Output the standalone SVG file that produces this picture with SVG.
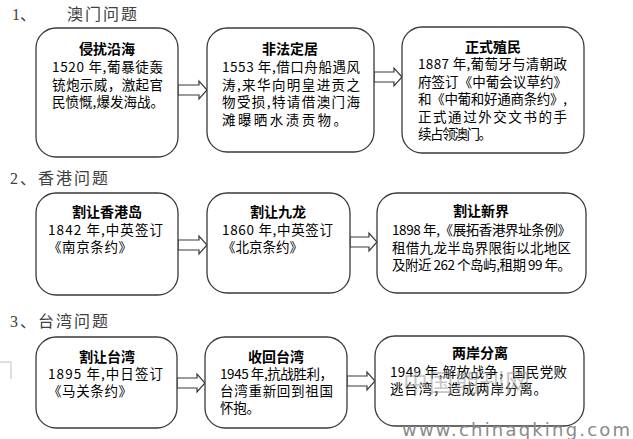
<svg xmlns="http://www.w3.org/2000/svg" width="633" height="439" viewBox="0 0 633 439">
<style>
.bg{fill:#fff}
.box{fill:#fff;stroke:#3a3a3a;stroke-width:1.3}
.arr{fill:#fff;stroke:#3a3a3a;stroke-width:1.2}
.sec{font-family:"Liberation Serif","Noto Sans CJK SC",serif;font-size:16px;fill:#404040}
.t{font-family:"Noto Sans CJK SC",sans-serif;font-size:14px;font-weight:bold;fill:#000;text-anchor:middle}
.b{font-family:"Noto Sans CJK SC",sans-serif;font-size:13.5px;fill:#000}
.wm{font-family:"Noto Sans CJK SC",sans-serif;font-size:25px;fill:#9a9a9a;opacity:0.55}
.url{font-family:"DejaVu Sans",sans-serif;font-size:18px;fill:#8a8a8a}
</style>
<rect class="bg" x="0" y="0" width="633" height="439"/>
<g id="headings">
<text class="sec" x="12" y="20">1、</text>
<text class="sec" x="67" y="20" textLength="70">澳门问题</text>
<text class="sec" x="10" y="184" textLength="98">2、香港问题</text>
<text class="sec" x="10" y="327" textLength="98">3、台湾问题</text>
</g>
<path d="M0,362 H11 V379" fill="none" stroke="#c0c0c0" stroke-width="1"/>
<g id="connectors">
<path class="arr" d="M178,85 H199 V81 L207,90 L199,99 V95 H178 Z"/>
<path class="arr" d="M374,72 H394 V68 L402,77 L394,86 V82 H374 Z"/>
<path class="arr" d="M178,240 H199 V236 L207,245 L199,254 V250 H178 Z"/>
<path class="arr" d="M350,237 H369 V233 L377,242 L369,251 V247 H350 Z"/>
<path class="arr" d="M177,378 H197 V374 L205,383 L197,392 V388 H177 Z"/>
<path class="arr" d="M347,376 H367 V372 L375,381 L367,390 V386 H347 Z"/>
</g>
<g id="n1">
<rect class="box" x="36" y="28" width="142" height="129" rx="20"/>
<text class="t" x="107" y="54">侵扰沿海</text>
<text class="b" x="52" y="72" textLength="111">1520 年,葡暴徒轰</text>
<text class="b" x="52" y="89.5" textLength="111">铳炮示威，激起官</text>
<text class="b" x="52" y="107" textLength="112">民愤慨,爆发海战。</text>
</g>
<g id="n2">
<rect class="box" x="207" y="28" width="167" height="124" rx="20"/>
<text class="t" x="290" y="54">非法定居</text>
<text class="b" x="222" y="72" textLength="138">1553 年,借口舟船遇风</text>
<text class="b" x="222" y="89.5" textLength="138">涛,来华向明皇进贡之</text>
<text class="b" x="222" y="107" textLength="138">物受损,特请借澳门海</text>
<text class="b" x="222" y="124.5" textLength="125">滩曝晒水渍贡物。</text>
</g>
<g id="n3">
<rect class="box" x="402" y="27" width="182" height="126" rx="20"/>
<text class="t" x="493" y="52">正式殖民</text>
<text class="b" x="418" y="69" textLength="149">1887 年,葡萄牙与清朝政</text>
<text class="b" x="418" y="86.5" textLength="149">府签订《中葡会议草约》</text>
<text class="b" x="418" y="104" textLength="149">和《中葡和好通商条约》,</text>
<text class="b" x="418" y="121.5" textLength="149">正式通过外交文书的手</text>
<text class="b" x="418" y="139" textLength="74">续占领澳门。</text>
</g>
<g id="n4">
<rect class="box" x="36" y="193" width="142" height="102" rx="20"/>
<text class="t" x="107" y="217">割让香港岛</text>
<text class="b" x="48" y="235" textLength="115">1842 年,中英签订</text>
<text class="b" x="48" y="252" textLength="84">《南京条约》</text>
</g>
<g id="n5">
<rect class="box" x="207" y="193" width="143" height="100" rx="20"/>
<text class="t" x="278" y="217">割让九龙</text>
<text class="b" x="222" y="235" textLength="111">1860 年,中英签订</text>
<text class="b" x="222" y="252" textLength="81">《北京条约》</text>
</g>
<g id="n6">
<rect class="box" x="377" y="193" width="209" height="100" rx="20"/>
<text class="t" x="481" y="216">割让新界</text>
<text class="b" x="392" y="235" textLength="179">1898 年,《展拓香港界址条例》</text>
<text class="b" x="392" y="252.5" textLength="179">租借九龙半岛界限街以北地区</text>
<text class="b" x="392" y="270" textLength="179">及附近 262 个岛屿,租期 99 年。</text>
</g>
<g id="n7">
<rect class="box" x="36" y="337" width="141" height="91" rx="20"/>
<text class="t" x="107" y="362">割让台湾</text>
<text class="b" x="48" y="379" textLength="115">1895 年,中日签订</text>
<text class="b" x="48" y="396" textLength="84">《马关条约》</text>
</g>
<g id="n8">
<rect class="box" x="205" y="337" width="142" height="91" rx="20"/>
<text class="t" x="276" y="362">收回台湾</text>
<text class="b" x="220" y="379" textLength="113">1945 年,抗战胜利，</text>
<text class="b" x="220" y="396" textLength="113">台湾重新回到祖国</text>
<text class="b" x="220" y="413" textLength="40">怀抱。</text>
</g>
<g id="n9">
<rect class="box" x="375" y="336" width="209" height="90" rx="20"/>
<text class="t" x="480" y="358">两岸分离</text>
<text class="b" x="390" y="377" textLength="177">1949 年,解放战争，国民党败</text>
<text class="b" x="390" y="394" textLength="157">逃台湾，造成两岸分离。</text>
</g>
<g id="watermark">
<text class="wm" x="403" y="392" textLength="127">中国期刊网</text>
<text class="url" x="402" y="436" textLength="228">www.chinaqking.com</text>
</g>
</svg>
